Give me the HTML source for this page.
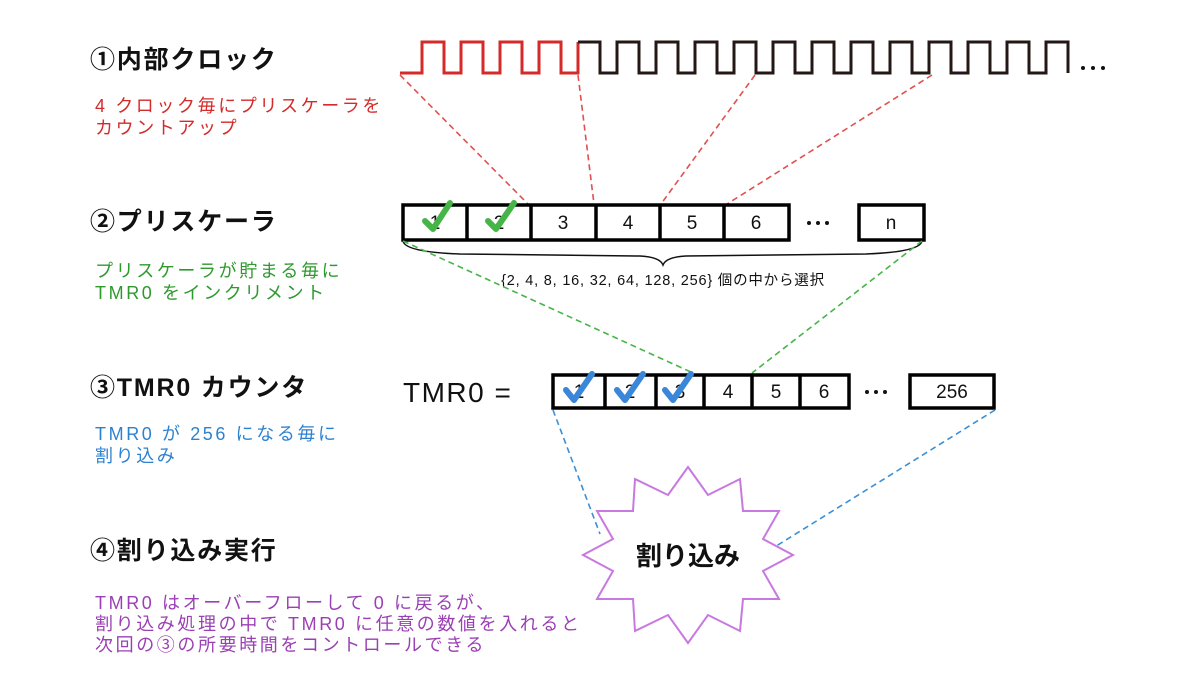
<!DOCTYPE html>
<html><head><meta charset="utf-8"><style>
html,body{margin:0;padding:0;background:#fff}
svg{display:block}
text{font-family:"Liberation Sans","Noto Sans CJK JP",sans-serif}
.t{font-size:25px;font-weight:bold;fill:#111;letter-spacing:1.8px}
.s{font-size:18px;letter-spacing:2.6px}
.c{font-size:19px;fill:#111;text-anchor:middle}
</style></head><body>
<svg width="1200" height="700" viewBox="0 0 1200 700" xmlns="http://www.w3.org/2000/svg">
<!-- left labels -->
<text class="t" x="90" y="68">①内部クロック</text>
<text class="s" x="95" y="112" fill="#d42a2a">4 クロック毎にプリスケーラを</text>
<text class="s" x="95" y="134" fill="#d42a2a">カウントアップ</text>
<text class="t" x="90" y="230">②プリスケーラ</text>
<text class="s" x="95" y="277" fill="#2e9a2e">プリスケーラが貯まる毎に</text>
<text class="s" x="95" y="299" fill="#2e9a2e">TMR0 をインクリメント</text>
<text class="t" x="90" y="396">③TMR0 カウンタ</text>
<text class="s" x="95" y="440" fill="#2d82d0">TMR0 が 256 になる毎に</text>
<text class="s" x="95" y="462" fill="#2d82d0">割り込み</text>
<text class="t" x="90" y="559">④割り込み実行</text>
<text class="s" x="95" y="609" fill="#9b3fb5">TMR0 はオーバーフローして 0 に戻るが、</text>
<text class="s" x="95" y="630" fill="#9b3fb5">割り込み処理の中で TMR0 に任意の数値を入れると</text>
<text class="s" x="95" y="651" fill="#9b3fb5">次回の③の所要時間をコントロールできる</text>

<!-- clock -->
<polyline fill="none" stroke="#d42a2a" stroke-width="3" points="400,73 422,73 422,42 444,42 444,73 461,73 461,42 483,42 483,73 500,73 500,42 522,42 522,73 539,73 539,42 561,42 561,73 578,73 578,42"/>
<polyline fill="none" stroke="#231815" stroke-width="3" points="578,42 600,42 600,73 617,73 617,42 639,42 639,73 656,73 656,42 678,42 678,73 695,73 695,42 717,42 717,73 734,73 734,42 756,42 756,73 773,73 773,42 795,42 795,73 812,73 812,42 834,42 834,73 851,73 851,42 873,42 873,73 890,73 890,42 912,42 912,73 929,73 929,42 951,42 951,73 968,73 968,42 990,42 990,73 1007,73 1007,42 1029,42 1029,73 1046,73 1046,42 1068,42 1068,73"/>
<g fill="#111"><circle cx="1083" cy="68" r="2"/><circle cx="1093" cy="68" r="2"/><circle cx="1103" cy="68" r="2"/></g>

<!-- red dashed -->
<g stroke="#e05050" stroke-width="1.6" stroke-dasharray="6,4" fill="none">
<line x1="400" y1="75" x2="528" y2="204"/>
<line x1="578" y1="75" x2="594" y2="204"/>
<line x1="755" y1="75" x2="661" y2="204"/>
<line x1="932" y1="75" x2="727" y2="204"/>
</g>

<!-- prescaler boxes -->
<g stroke="#000" stroke-width="3.5" fill="#fff">
<rect x="403" y="205" width="386" height="35"/>
<line x1="467" y1="205" x2="467" y2="240"/>
<line x1="531" y1="205" x2="531" y2="240"/>
<line x1="596" y1="205" x2="596" y2="240"/>
<line x1="660" y1="205" x2="660" y2="240"/>
<line x1="724" y1="205" x2="724" y2="240"/>
<rect x="859" y="205" width="65" height="35"/>
</g>
<text class="c" x="435" y="229">1</text>
<text class="c" x="499" y="229">2</text>
<text class="c" x="563" y="229">3</text>
<text class="c" x="628" y="229">4</text>
<text class="c" x="692" y="229">5</text>
<text class="c" x="756" y="229">6</text>
<g fill="#111"><circle cx="809" cy="223" r="2"/><circle cx="818" cy="223" r="2"/><circle cx="827" cy="223" r="2"/></g>
<text class="c" x="891" y="229">n</text>
<g fill="none" stroke="#46b548" stroke-width="6" stroke-linecap="round" stroke-linejoin="round">
<path d="M425,221 L433,229 L450,203"/>
<path d="M488,221 L496,229 L514,203"/>
</g>
<!-- brace -->
<path d="M403,241 Q405,252 460,254 L640,256 Q660,257 663,265 Q666,257 686,256 L866,254 Q920,252 922,241" fill="none" stroke="#111" stroke-width="1.5"/>
<text x="663" y="285" font-size="14.5" fill="#111" text-anchor="middle" letter-spacing="0.8">{2, 4, 8, 16, 32, 64, 128, 256} 個の中から選択</text>

<!-- green dashed -->
<g stroke="#46b548" stroke-width="1.6" stroke-dasharray="6,4" fill="none">
<line x1="403" y1="241" x2="693" y2="373"/>
<line x1="922" y1="241" x2="752" y2="373"/>
</g>

<!-- TMR0 -->
<text x="403" y="402" font-size="28" fill="#111" letter-spacing="1.5">TMR0 =</text>
<g stroke="#000" stroke-width="3.5" fill="#fff">
<rect x="553" y="375" width="296" height="33"/>
<line x1="605" y1="375" x2="605" y2="408"/>
<line x1="656" y1="375" x2="656" y2="408"/>
<line x1="704" y1="375" x2="704" y2="408"/>
<line x1="752" y1="375" x2="752" y2="408"/>
<line x1="800" y1="375" x2="800" y2="408"/>
<rect x="910" y="375" width="84" height="33"/>
</g>
<text class="c" x="579" y="398">1</text>
<text class="c" x="630" y="398">2</text>
<text class="c" x="680" y="398">3</text>
<text class="c" x="728" y="398">4</text>
<text class="c" x="776" y="398">5</text>
<text class="c" x="824" y="398">6</text>
<g fill="#111"><circle cx="867" cy="392" r="2"/><circle cx="876" cy="392" r="2"/><circle cx="885" cy="392" r="2"/></g>
<text class="c" x="952" y="398">256</text>
<g fill="none" stroke="#3a86d8" stroke-width="6" stroke-linecap="round" stroke-linejoin="round">
<path d="M566,390 L574,400 L592,374"/>
<path d="M617,390 L625,400 L643,374"/>
<path d="M665,390 L673,400 L691,374"/>
</g>

<!-- blue dashed -->
<g stroke="#3a8fd8" stroke-width="1.6" stroke-dasharray="6,4" fill="none">
<line x1="553" y1="410" x2="600" y2="534"/>
<line x1="995" y1="410" x2="765" y2="553"/>
</g>

<!-- starburst -->
<polygon fill="#fff" stroke="#c879e0" stroke-width="2" points="793,555 763,571 779,599 743,599 740,631 708,615 688,643 668,615 635,631 633,599 597,599 613,571 583,555 613,539 597,511 633,511 635,479 668,495 688,467 708,495 740,479 743,511 779,511 763,539"/>
<text x="688" y="565" font-size="26" font-weight="bold" fill="#111" text-anchor="middle">割り込み</text>
</svg>
</body></html>
